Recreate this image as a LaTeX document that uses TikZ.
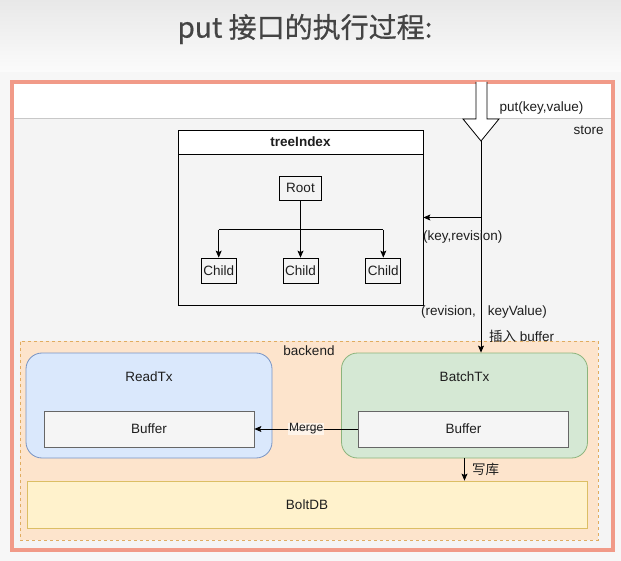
\documentclass[tikz,border=0pt]{standalone}
\usepackage{fontspec}
\setmainfont{Liberation Sans}
\newfontfamily\cjk{Noto Sans CJK SC}
\newfontfamily\cjktitle{Noto Sans CJK SC}[FakeBold=0.6]
\usepackage{tikz}
\usetikzlibrary{arrows.meta,positioning,shadows,calc}
\definecolor{framered}{RGB}{241,154,136}
\definecolor{storegray}{RGB}{244,244,244}
\definecolor{linegray}{RGB}{200,200,200}
\definecolor{titlegray}{RGB}{68,68,68}
\definecolor{textgray}{RGB}{30,30,30}
\definecolor{backfill}{RGB}{253,228,204}
\definecolor{backline}{RGB}{224,172,96}
\definecolor{readfill}{RGB}{218,232,252}
\definecolor{readline}{RGB}{120,148,196}
\definecolor{batchfill}{RGB}{213,232,212}
\definecolor{batchline}{RGB}{140,180,124}
\definecolor{buffill}{RGB}{245,245,245}
\definecolor{bufline}{RGB}{102,102,102}
\definecolor{boltfill}{RGB}{255,242,204}
\definecolor{boltline}{RGB}{220,190,100}

\begin{document}
\begin{tikzpicture}[x=1pt, y=-1pt, font=\fontsize{13.5}{16}\selectfont, text=textgray]
\tikzstyle{box} = [rectangle, inner sep=0pt, draw=black, line width=0.8pt]
\tikzstyle{tx} = [rectangle, rounded corners=16pt, inner sep=0pt, line width=0.8pt, minimum width=246pt, minimum height=105pt]
\tikzstyle{buf} = [rectangle, inner sep=0pt, draw=bufline, fill=buffill, line width=0.8pt, minimum width=210pt, minimum height=36pt]
\tikzstyle{arrow} = [-{Stealth[length=7pt,width=6pt,inset=1.5pt]}, line width=0.8pt]

\path[use as bounding box, fill=gray!6] (0,0) rectangle (621,561);
\shade[top color=gray!18, bottom color=gray!3] (0,0) rectangle (621,72);
\node (title) [text=titlegray, font=\cjktitle\fontsize{28}{32}\selectfont] at (305,29) {put 接口的执行过程:};

\node (frame) [rectangle, inner sep=0pt, fill=white, minimum width=600.5pt, minimum height=468pt, drop shadow={shadow xshift=1pt, shadow yshift=-2pt, opacity=0.2}] at (312.75,316) {};
\node (store) [rectangle, inner sep=0pt, fill=storegray, draw=linegray, minimum width=600.5pt, minimum height=432pt] at (312.75,334) {};
\draw[framered, line width=4pt] (frame.north west) rectangle (frame.south east);
\node (storelabel) [below left=4pt and 6pt of store.north east] {store};

\draw[fill=white, line width=0.8pt] (476,82) -- (476,119) -- (463,119) -- (481,141) -- (499,119) -- (487,119) -- (487,82);
\coordinate (tip) at (481,141);
\node (putlabel) [anchor=west] at (496,108) {put(key,value)};

\node (tree) [box, minimum width=245pt, minimum height=175pt] at (300.5,217.5) {};
\node (treehead) [box, fill=white, anchor=north, minimum width=245pt, minimum height=24pt, font=\fontsize{13.5}{16}\selectfont\bfseries] at (tree.north) {treeIndex};
\node (child2) [box, minimum width=35pt, minimum height=25pt] at (300.5,270.5) {Child};
\node (child1) [box, minimum width=35pt, minimum height=25pt, left=46pt of child2] {Child};
\node (child3) [box, minimum width=35pt, minimum height=25pt, right=47pt of child2] {Child};
\node (root) [box, minimum width=42pt, minimum height=24pt, above=57pt of child2] {Root};
\coordinate (fork) at ($(root.south)+(0,29)$);

\draw [arrow] (root) -- (child2);
\draw [line width=0.8pt] (child1 |- fork) -- (child3 |- fork);
\draw [arrow] (child1 |- fork) -- (child1);
\draw [arrow] (child3 |- fork) -- (child3);

\node (backend) [rectangle, inner sep=0pt, fill=backfill, draw=backline, dash pattern=on 3pt off 3pt, line width=0.8pt, minimum width=578pt, minimum height=199pt] at (309,440.5) {};
\node (backlabel) [below=2pt of backend.north] {backend};
\node (read) [tx, fill=readfill, draw=readline, label={[anchor=center, yshift=-24pt]north:ReadTx}] at (149,405.5) {};
\node (batch) [tx, fill=batchfill, draw=batchline, label={[anchor=center, yshift=-24pt]north:BatchTx}] at (464.5,405.5) {};
\node (readbuf) [buf] at ($(read.center)+(0,23.5)$) {Buffer};
\node (batchbuf) [buf] at ($(batch.center)+(-1,23.5)$) {Buffer};
\node (bolt) [rectangle, inner sep=0pt, fill=boltfill, draw=boltline, line width=0.8pt, minimum width=560pt, minimum height=47pt] at (307,504.5) {BoltDB};

\draw [arrow] (tip) -- (tip |- batch.north);
\draw [arrow] (tip |- tree.east) -- (tree.east);
\node (keyrev) [anchor=west, inner sep=2pt] at (421,237) {(key,revision)};
\node (revkv) [anchor=west, inner sep=2pt] at (419,312) {(revision,\hspace{12pt}keyValue)};
\node (insert) [anchor=west, inner sep=2pt] at (487,336) {{\cjk 插入} buffer};
\draw [arrow] (batchbuf.west) -- node[fill=white, fill opacity=0.6, text opacity=1, inner sep=1pt, font=\fontsize{12}{14}\selectfont] {Merge} (readbuf.east);
\draw [arrow] (batch.south) -- (batch.south |- bolt.north) node[midway, right=4pt] {\cjk 写库};
\end{tikzpicture}
\end{document}
